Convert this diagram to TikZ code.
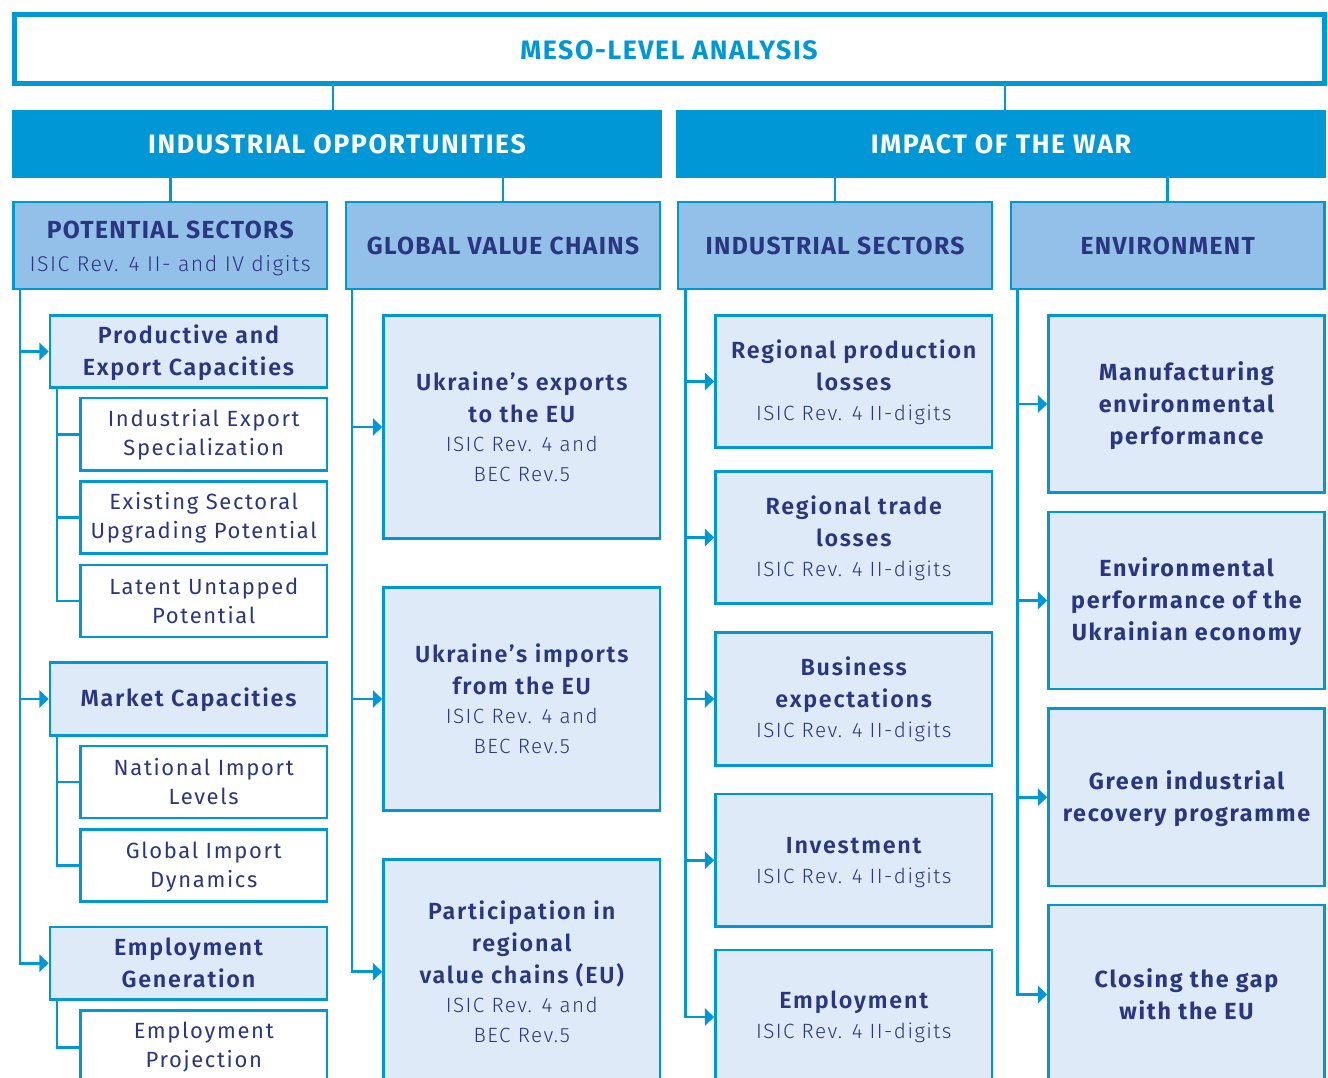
\documentclass[tikz,border=0pt]{standalone}
\usepackage{fontspec}
\setmainfont{Fira Sans}
\newfontfamily\fsHead{Fira Sans}[LetterSpace=6]
\newfontfamily\fsSubh{Fira Sans}[LetterSpace=5.5]
\newfontfamily\fsEnvf{Fira Sans}[LetterSpace=7.3]
\newfontfamily\fsSemi{Fira Sans SemiBold}[LetterSpace=7.5]
\newfontfamily\fsReg{Fira Sans}[LetterSpace=7.5]
\newfontfamily\fsLight{Fira Sans Light}[LetterSpace=7]
\usetikzlibrary{arrows.meta}
\definecolor{cblue}{RGB}{0,151,215}
\definecolor{chead}{RGB}{146,192,233}
\definecolor{clight}{RGB}{222,234,248}
\definecolor{cnavy}{RGB}{43,54,128}
\newcommand\fhead{\fsHead\bfseries\fontsize{20}{24}\selectfont}
\newcommand\fsubh{\fsSubh\bfseries\fontsize{18.5}{24.75}\selectfont}
\newcommand\ftitle{\fsSemi\fontsize{17.5}{24}\selectfont}
\newcommand\fenv{\fsEnvf\bfseries\fontsize{17.5}{24}\selectfont}
\newcommand\freg{\fsReg\fontsize{16.5}{21.75}\selectfont}
\newcommand\flight{\fsLight\mdseries\fontsize{15.5}{23}\selectfont}
\newcommand\flightb{\fsLight\mdseries\fontsize{16}{23}\selectfont}
\newcommand\dn[1]{\rule{0pt}{#1em}}
\newcommand\mybox[7]{\node[#2,minimum width={(#5-#3)*0.75pt},minimum height={(#6-#4)*0.75pt}] (#1) at ({(#3+#5)/2},{(#4+#6)/2}) {#7};}
\tikzset{
  base/.style={draw=cblue, line width=2pt, inner sep=0pt, align=center, text=cnavy},
  mesobox/.style={draw=cblue, line width=3.75pt, fill=white, inner sep=0pt, text=cblue, font=\fhead},
  hdrbox/.style={fill=cblue, draw=none, inner sep=0pt, text=white, font=\fhead},
  subhbox/.style={base, fill=chead, font=\fsubh},
  lbox/.style={base, fill=clight, font=\ftitle},
  envbox/.style={base, fill=clight, font=\fenv},
  wbox/.style={base, fill=white, font=\freg},
  conn/.style={draw=cblue, line width=2pt},
  arr/.style={conn, -{Triangle[length=7pt,width=13pt]}}
}
\begin{document}
\begin{tikzpicture}[x=0.75pt,y=-0.75pt]
\useasboundingbox (0,0) rectangle (1328,1078);
\clip (0,0) rectangle (1328,1078);
\fill[white] (0,0) rectangle (1328,1078);
% top
\mybox{meso}{mesobox}{14}{14}{1324}{83.5}{\dn{0.85}MESO-LEVEL ANALYSIS}
\mybox{io}{hdrbox}{12}{110}{662}{178}{INDUSTRIAL OPPORTUNITIES}
\mybox{iw}{hdrbox}{676}{110}{1326}{178}{IMPACT OF THE WAR}
\draw[conn] (meso.south -| 333,0) -- (io.north -| 333,0);
\draw[conn] (meso.south -| 1005,0) -- (iw.north -| 1005,0);
% sub headers
\mybox{ps}{subhbox}{13.5}{202}{327}{289}{\dn{0.95}POTENTIAL SECTORS\\{\flightb ISIC Rev. 4 II- and IV digits}}
\mybox{gvc}{subhbox}{346}{202}{660}{289}{GLOBAL VALUE CHAINS}
\mybox{is}{subhbox}{678}{202}{992}{289}{INDUSTRIAL SECTORS}
\mybox{env}{subhbox}{1011}{202}{1324.5}{289}{ENVIRONMENT}
\draw[conn] (io.south -| ps.north) -- (ps.north);
\draw[conn] (io.south -| gvc.north) -- (gvc.north);
\draw[conn] (iw.south -| is.north) -- (is.north);
\draw[conn] (iw.south -| env.north) -- (env.north);
% column 1
\mybox{pec}{lbox}{50}{315.5}{327}{387.5}{\dn{0.9}Productive and\\Export Capacities}
\mybox{ies}{wbox}{80.5}{398}{327}{470.5}{\dn{0.85}Industrial Export\\Specialization}
\mybox{esu}{wbox}{80.5}{481.5}{327}{553.5}{Existing Sectoral\\Upgrading Potential}
\mybox{lup}{wbox}{80.5}{565}{327}{637}{Latent Untapped\\Potential}
\mybox{mc}{lbox}{50}{662.5}{327}{735.5}{\dn{0.9}Market Capacities}
\mybox{nil}{wbox}{80.5}{746}{327}{818}{National Import\\Levels}
\mybox{gid}{wbox}{80.5}{829.5}{327}{901.5}{\dn{0.85}Global Import\\Dynamics}
\mybox{eg}{lbox}{50}{927}{327}{999.5}{Employment\\Generation}
\mybox{ep}{wbox}{80.5}{1010.5}{327}{1084}{Employment\\Projection}
\draw[arr] (ps.south -| 20,0) |- (pec.west);
\draw[arr] (ps.south -| 20,0) |- (mc.west);
\draw[arr] (ps.south -| 20,0) |- (eg.west);
\draw[conn] (pec.south -| 57,0) |- (ies.west);
\draw[conn] (pec.south -| 57,0) |- (esu.west);
\draw[conn] (pec.south -| 57,0) |- (lup.west);
\draw[conn] (mc.south -| 57,0) |- (nil.west);
\draw[conn] (mc.south -| 57,0) |- (gid.west);
\draw[conn] (eg.south -| 57,0) |- (ep.west);
% column 2
\mybox{uex}{lbox}{383.5}{315.5}{660}{538.5}{Ukraine’s exports\\to the EU\\[-2.25pt]{\flight ISIC Rev. 4 and}\\[-1.5pt]{\flight BEC Rev.5}}
\mybox{uim}{lbox}{383.5}{587.5}{660}{810.5}{Ukraine’s imports\\from the EU\\[-2.25pt]{\flight ISIC Rev. 4 and}\\[-1.5pt]{\flight BEC Rev.5}}
\mybox{prv}{lbox}{383.5}{859.5}{660}{1084}{Participation in\\regional\\value chains (EU)\\[-2.25pt]{\flight ISIC Rev. 4 and}\\[-1.5pt]{\flight BEC Rev.5}}
\draw[arr] (gvc.south -| 352,0) |- (uex.west);
\draw[arr] (gvc.south -| 352,0) |- (uim.west);
\draw[arr] (gvc.south -| 352,0) |- (prv.west);
% column 3
\mybox{rpl}{lbox}{715.5}{315.5}{992}{447.5}{\dn{0.85}Regional production\\losses\\[-1.5pt]{\flight ISIC Rev. 4 II-digits}}
\mybox{rtl}{lbox}{715.5}{471.5}{992}{603.5}{\dn{0.85}Regional trade\\losses\\[-1.5pt]{\flight ISIC Rev. 4 II-digits}}
\mybox{bex}{lbox}{715.5}{632.5}{992}{765.5}{\dn{0.85}Business\\expectations\\[-1.5pt]{\flight ISIC Rev. 4 II-digits}}
\mybox{inv}{lbox}{715.5}{794}{992}{926.5}{\dn{0.85}Investment\\[-1.5pt]{\flight ISIC Rev. 4 II-digits}}
\mybox{emp}{lbox}{715.5}{950}{992}{1084}{Employment\\[-1.5pt]{\flight ISIC Rev. 4 II-digits}}
\draw[arr] (is.south -| 685.5,0) |- (rpl.west);
\draw[arr] (is.south -| 685.5,0) |- (rtl.west);
\draw[arr] (is.south -| 685.5,0) |- (bex.west);
\draw[arr] (is.south -| 685.5,0) |- (inv.west);
\draw[arr] (is.south -| 685.5,0) |- (emp.west);
% column 4
\mybox{mep}{envbox}{1048.5}{315.5}{1324.5}{492.5}{\dn{0.95}Manufacturing\\environmental\\performance}
\mybox{epu}{envbox}{1048.5}{512}{1324.5}{689}{\dn{0.9}Environmental\\performance of the\\Ukrainian economy}
\mybox{gir}{envbox}{1048.5}{708.5}{1324.5}{886}{\dn{0.9}Green industrial\\recovery programme}
\mybox{ctg}{envbox}{1048.5}{905}{1324.5}{1084}{Closing the gap\\with the EU}
\draw[arr] (env.south -| 1017.5,0) |- (mep.west);
\draw[arr] (env.south -| 1017.5,0) |- (epu.west);
\draw[arr] (env.south -| 1017.5,0) |- (gir.west);
\draw[arr] (env.south -| 1017.5,0) |- (ctg.west);
\end{tikzpicture}
\end{document}
